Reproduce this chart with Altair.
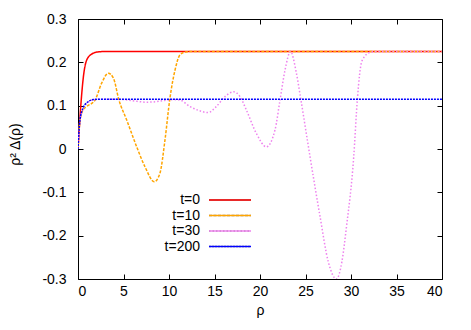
import altair as alt
import pandas as pd

series = ["t=0", "t=10", "t=30", "t=200"]
colors = ["#ff0000", "#ffa500", "#ee82ee", "#0000ff"]

rho_t0 = [0, 0.3, 0.6, 0.95, 1.5, 2.2, 3, 40]
val_t0 = [0, 0.098, 0.168, 0.205, 0.219, 0.224, 0.225, 0.225]

rho_t10 = [0, 0.2, 0.55, 0.95, 1.87, 2.6, 3.33, 3.9, 4.5, 5.35, 6.45, 7.36, 8.38,
           9.0, 9.56, 10.1, 10.66, 11.2, 11.8, 12.5, 40]
val_t10 = [0, 0.062, 0.09, 0.098, 0.113, 0.152, 0.175, 0.163, 0.113, 0.067, 0.005,
           -0.041, -0.0755, -0.056, 0.021, 0.117, 0.182, 0.217, 0.224, 0.225, 0.225]

rho_t30 = [0, 0.2, 0.55, 1.1, 1.8, 3, 5, 6.5, 7.5, 8.5, 9.5, 10.5, 11.2, 12.3, 13.4,
           14.3, 15.2, 16.15, 17.1, 17.8, 18.5, 19.6, 20.7, 21.65, 22.2, 22.75, 23.35,
           24.0, 24.5, 25.5, 26.6, 27.5, 28.4, 29.0, 29.5, 30.3, 30.7, 31.2, 32.1, 33, 40]
val_t30 = [0, 0.062, 0.092, 0.108, 0.114, 0.115, 0.114, 0.11, 0.108, 0.109, 0.112,
           0.114, 0.113, 0.098, 0.088, 0.084, 0.098, 0.121, 0.132, 0.121, 0.09, 0.036,
           0.005, 0.044, 0.113, 0.182, 0.225, 0.175, 0.113, -0.018, -0.156, -0.26,
           -0.3, -0.26, -0.18, -0.018, 0.115, 0.203, 0.223, 0.225, 0.225]

rho_t200 = [0, 0.2, 0.55, 1.1, 1.7, 2.5, 40]
val_t200 = [0, 0.065, 0.094, 0.109, 0.114, 0.115, 0.115]

rows = []
for name, xs, ys in [("t=0", rho_t0, val_t0), ("t=10", rho_t10, val_t10),
                     ("t=30", rho_t30, val_t30), ("t=200", rho_t200, val_t200)]:
    for i, (a, b) in enumerate(zip(xs, ys)):
        rows.append({"series": name, "label": name, "rho": a, "v": b, "order": i})
df = pd.DataFrame(rows)

FONT = "Liberation Sans"

# legend that draws only the line samples
sym_legend = alt.Legend(
    title=None, orient="none", legendX=130, legendY=174,
    symbolType="stroke", symbolSize=1764, symbolStrokeWidth=1.5, symbolOffset=0,
    labelExpr="''", labelFontSize=14, labelOffset=0,
    clipHeight=14, rowPadding=1.5, padding=0,
)
# legend that draws only the texts, right aligned, left of the samples
txt_legend = alt.Legend(
    title=None, orient="none", legendX=78, legendY=174,
    symbolType="stroke", symbolSize=1764, symbolOpacity=0, symbolOffset=0,
    labelAlign="right", labelOffset=0, labelFontSize=14,
    labelFont=FONT, labelColor="black", clipHeight=14, rowPadding=1.5, padding=0,
)

color = alt.Color("series:N", scale=alt.Scale(domain=series, range=colors), legend=sym_legend)
dash = alt.StrokeDash("series:N", scale=alt.Scale(domain=series,
                      range=[[1, 0], [3, 1.5], [1.5, 2], [2, 1]]), legend=sym_legend)

ylabel = "datum.value == 0 ? '0' : replace(format(datum.value, '.1f'), '\u2212', '-')"

main = alt.Chart(df).mark_line(strokeWidth=1.5, interpolate="monotone", clip=True).encode(
    x=alt.X("rho:Q", scale=alt.Scale(domain=[0, 40], nice=False),
            axis=alt.Axis(orient="bottom", values=list(range(0, 41, 5)), offset=-5,
                          tickSize=5, labelPadding=5, domain=False, grid=False,
                          title="ρ", titlePadding=5)),
    y=alt.Y("v:Q", scale=alt.Scale(domain=[-0.3, 0.3], nice=False),
            axis=alt.Axis(orient="left", values=[-0.3, -0.2, -0.1, 0, 0.1, 0.2, 0.3],
                          offset=-5, tickSize=5, labelPadding=12, domain=False,
                          grid=False, labelExpr=ylabel, title="ρ² Δ(ρ)",
                          titleX=-61, titleY=125)),
    color=color,
    strokeDash=dash,
    order="order:Q",
)

ghost = alt.Chart(df).mark_line(strokeOpacity=0).encode(
    x=alt.X("rho:Q", scale=alt.Scale(domain=[0, 40], nice=False),
            axis=alt.Axis(orient="top", values=list(range(0, 41, 5)), offset=-5,
                          tickSize=5, labels=False, domain=False, grid=False, title=None)),
    y=alt.Y("v:Q", scale=alt.Scale(domain=[-0.3, 0.3], nice=False),
            axis=alt.Axis(orient="right", values=[-0.3, -0.2, -0.1, 0, 0.1, 0.2, 0.3],
                          offset=-5, tickSize=5, labels=False, domain=False,
                          grid=False, title=None)),
    color=alt.Color("label:N", scale=alt.Scale(domain=series, range=colors),
                    legend=txt_legend),
)

chart = alt.layer(main, ghost).resolve_axis(
    x="independent", y="independent"
).resolve_scale(color="independent").properties(
    width=364, height=260,
    background="white",
    autosize=alt.AutoSizeParams(type="none"),
    padding={"left": 70, "top": 11, "right": 13, "bottom": 40},
).configure_view(stroke="black", strokeWidth=1).configure_axis(
    labelFont=FONT, labelFontSize=14, labelColor="black",
    titleFont=FONT, titleFontSize=14, titleFontWeight="normal", titleColor="black",
    tickColor="black", tickWidth=1,
)

chart.save("out.html", embed_options={"renderer": "svg", "actions": False})
